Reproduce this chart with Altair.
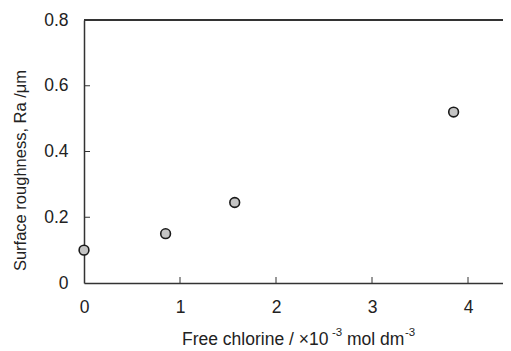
import altair as alt
import pandas as pd

chlorine = [0.0, 0.85, 1.57, 3.85]
roughness = [0.10, 0.15, 0.245, 0.52]
x_ticks = [1, 2, 3, 4]
y_ticks = [0.2, 0.4, 0.6]

W, H = 419, 263
XMAX = W / 96.0

df = pd.DataFrame({"x": chlorine, "y": roughness})
xt = pd.DataFrame({"t": x_ticks})
yt = pd.DataFrame({"t": y_ticks})

FONT = "Liberation Sans"
xs = alt.Scale(domain=[0, XMAX], nice=False, zero=False)
ys = alt.Scale(domain=[0, 0.8], nice=False)

base = alt.Chart(df).mark_point(
    filled=True, fill="#c4c4c4", stroke="#1a1a1a", strokeWidth=1.6, size=95, opacity=1
).encode(
    x=alt.X("x:Q", scale=xs, axis=alt.Axis(
        values=[0, 1, 2, 3, 4], format="d", tickSize=0, labelPadding=15, domainColor="#333333",
        labelFlush=False, labelOverlap=False,
        domainWidth=1.5, grid=False, title=None, labelFontSize=17.5, labelFont=FONT, labelColor="#222222")),
    y=alt.Y("y:Q", scale=ys, axis=alt.Axis(
        values=[0, 0.2, 0.4, 0.6, 0.8], labelExpr="datum.value == 0 ? '0' : format(datum.value, '.1f')",
        labelFlush=False, labelOverlap=False,
        tickSize=0, labelPadding=16, domainColor="#333333", domainWidth=1.5, grid=False,
        title="Surface roughness, Ra /\u03bcm", titleFontSize=16.5, titleFont=FONT, titleColor="#222222",
        titleFontWeight="normal", titlePadding=15, titleY=150,
        labelFontSize=17.5, labelFont=FONT, labelColor="#222222")),
)

xtick = alt.Chart(xt).mark_rule(color="#333333", strokeWidth=1).encode(
    x=alt.X("t:Q", scale=xs), y=alt.value(H), y2=alt.value(H - 6))
ytick = alt.Chart(yt).mark_rule(color="#333333", strokeWidth=1).encode(
    y=alt.Y("t:Q", scale=ys), x=alt.value(0), x2=alt.value(6))
top = alt.Chart(df).mark_rule(color="#333333", strokeWidth=1.5).encode(
    y=alt.value(0), x=alt.value(0), x2=alt.value(W))

title_parts = [
    ("Free chlorine / \u00d710", 98, 325, 17.5),
    ("-3", 248, 316, 11.5),
    ("mol dm", 263, 325, 17.5),
    ("-3", 321, 316, 11.5),
]
texts = []
for s, px, py, fs in title_parts:
    texts.append(alt.Chart(pd.DataFrame({"text": [s]})).mark_text(
        align="left", baseline="alphabetic", font=FONT, fontSize=fs, color="#222222"
    ).encode(text="text:N", x=alt.value(px), y=alt.value(py)))

chart = alt.layer(top, xtick, ytick, base, *texts).properties(
    width=W, height=H,
    autosize=alt.AutoSizeParams(type="none"),
    padding={"left": 76, "top": 12, "right": 0, "bottom": 68},
).configure_view(stroke=None)

chart.save("out.html", embed_options={"renderer": "svg", "actions": False})
